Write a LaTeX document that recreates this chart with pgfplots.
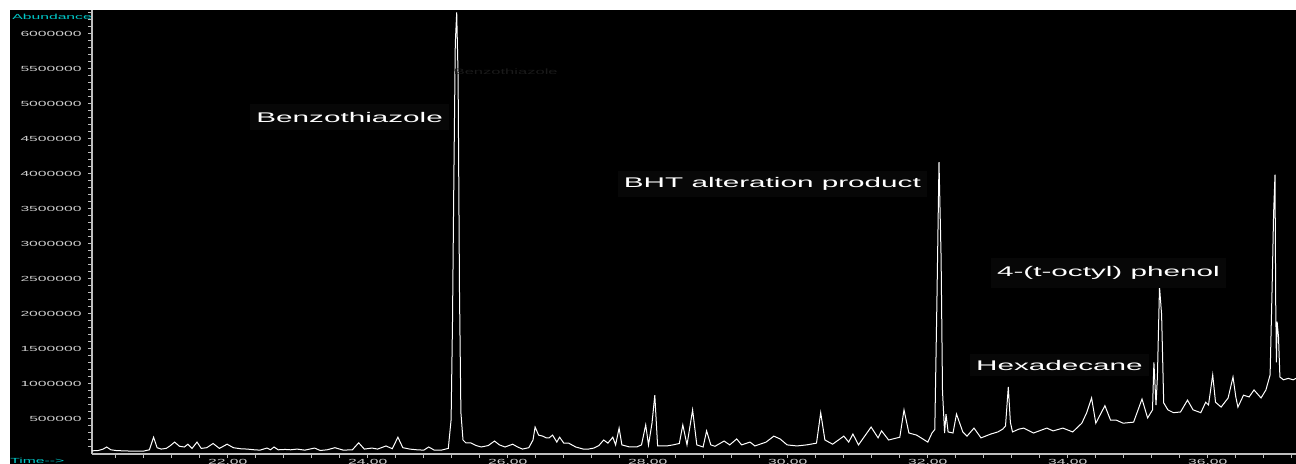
\documentclass[border=0pt]{standalone}
\usepackage{fontspec}
\setmainfont{Liberation Sans}
\usepackage{graphicx}
\usepackage{pgfplots}
\usepackage{pgfplotstable}
\pgfplotsset{compat=1.18}
\definecolor{cy}{RGB}{0,200,200}
\definecolor{tk}{RGB}{205,205,205}
\definecolor{ax}{RGB}{190,190,190}
\definecolor{boxc}{RGB}{7,7,7}
\definecolor{ghost}{RGB}{26,26,26}
\newcommand{\sx}[1]{\scalebox{2.12}[1]{#1}}

\pgfplotstableread{
t v
20.06 45000
20.15 50000
20.22 70000
20.27 100000
20.33 60000
20.40 50000
20.50 45000
20.60 42000
20.70 42000
20.80 42000
20.88 60000
20.94 240000
20.99 90000
21.05 70000
21.12 80000
21.18 120000
21.24 170000
21.31 110000
21.38 100000
21.43 140000
21.49 80000
21.56 170000
21.62 80000
21.70 90000
21.79 150000
21.88 80000
21.99 140000
22.08 90000
22.18 75000
22.28 70000
22.38 60000
22.46 55000
22.56 85000
22.61 60000
22.66 100000
22.72 60000
22.82 65000
22.90 60000
22.99 70000
23.10 55000
23.24 85000
23.32 50000
23.42 60000
23.53 90000
23.65 55000
23.78 60000
23.87 160000
23.95 70000
24.06 85000
24.14 70000
24.26 115000
24.35 75000
24.43 240000
24.50 90000
24.60 70000
24.70 60000
24.80 55000
24.87 100000
24.95 55000
25.05 55000
25.15 80000
25.19 490000
25.21 1890000
25.23 4000000
25.25 5870000
25.27 6310000
25.29 5390000
25.31 2300000
25.33 590000
25.36 200000
25.40 160000
25.47 160000
25.55 120000
25.62 100000
25.72 120000
25.81 185000
25.88 130000
25.96 100000
26.07 140000
26.14 100000
26.21 70000
26.30 90000
26.36 200000
26.39 385000
26.44 270000
26.50 255000
26.55 230000
26.59 230000
26.64 270000
26.70 170000
26.74 240000
26.80 155000
26.87 155000
26.97 100000
27.08 70000
27.15 70000
27.23 85000
27.30 120000
27.37 200000
27.43 155000
27.50 240000
27.54 130000
27.59 370000
27.63 130000
27.74 100000
27.84 100000
27.91 130000
27.97 415000
28.01 130000
28.06 440000
28.10 840000
28.14 115000
28.27 115000
28.36 130000
28.45 150000
28.50 415000
28.56 130000
28.64 630000
28.70 130000
28.79 100000
28.84 330000
28.90 130000
28.96 110000
29.09 185000
29.17 130000
29.27 215000
29.34 130000
29.46 170000
29.53 115000
29.69 170000
29.80 255000
29.89 215000
29.99 130000
30.13 115000
30.27 130000
30.41 155000
30.47 590000
30.53 200000
30.64 140000
30.80 255000
30.87 170000
30.93 285000
31.01 130000
31.19 385000
31.29 230000
31.34 330000
31.44 200000
31.60 240000
31.66 630000
31.73 300000
31.84 270000
32.00 170000
32.06 300000
32.10 350000
32.13 2170000
32.16 4170000
32.19 2800000
32.21 900000
32.24 300000
32.26 570000
32.29 315000
32.36 300000
32.41 570000
32.50 315000
32.56 255000
32.66 370000
32.76 230000
32.90 285000
33.00 315000
33.07 355000
33.11 400000
33.15 960000
33.18 450000
33.21 315000
33.30 355000
33.37 370000
33.51 300000
33.70 370000
33.79 330000
33.93 370000
34.07 315000
34.20 440000
34.27 590000
34.34 800000
34.40 440000
34.53 690000
34.61 485000
34.69 485000
34.79 440000
34.94 455000
35.06 785000
35.14 515000
35.21 630000
35.23 1310000
35.26 700000
35.28 1100000
35.31 2390000
35.34 1990000
35.37 730000
35.43 630000
35.51 590000
35.61 600000
35.71 770000
35.79 630000
35.90 590000
35.97 740000
36.01 700000
36.07 1130000
36.11 740000
36.19 670000
36.29 800000
36.36 1100000
36.40 815000
36.43 670000
36.51 840000
36.59 815000
36.66 915000
36.76 800000
36.83 915000
36.89 1130000
36.92 2440000
36.94 3440000
36.96 3990000
36.97 2170000
36.98 1310000
36.99 1890000
37.01 1670000
37.03 1100000
37.08 1060000
37.15 1080000
37.22 1060000
37.26 1080000
}\chrom

\begin{document}
\begin{tikzpicture}
\fill[white] (-46pt,-5pt) rectangle (602pt,227pt);
\fill[black] (-41pt,-5pt) rectangle (602pt,222pt);
\begin{axis}[
  at={(0,0)}, anchor=south west,
  scale only axis, width=602pt, height=222pt,
  xmin=20.06, xmax=37.26, ymin=0, ymax=6343000,
  axis x line*=bottom, axis y line*=left,
  axis line style={ax, line width=0.6pt},
  tick align=outside, major tick length=2pt, minor tick length=2pt,
  tick style={ax, line width=0.5pt},
  xtick={22,24,26,28,30,32,34,36},
  xticklabels={\sx{22.00},\sx{24.00},\sx{26.00},\sx{28.00},\sx{30.00},\sx{32.00},\sx{34.00},\sx{36.00}},
  minor xtick={20.4,20.8,...,37.2},
  ytick={500000,1000000,1500000,2000000,2500000,3000000,3500000,4000000,4500000,5000000,5500000,6000000},
  yticklabels={\sx{500000},\sx{1000000},\sx{1500000},\sx{2000000},\sx{2500000},\sx{3000000},\sx{3500000},\sx{4000000},\sx{4500000},\sx{5000000},\sx{5500000},\sx{6000000}},
  minor ytick={100000,200000,...,6300000},
  ticklabel style={font=\fontsize{3.7}{4}\selectfont, text=tk},
  yticklabel style={inner xsep=3pt},
  xticklabel style={inner ysep=0.6pt},
  /pgf/number format/assume math mode=true,
  clip=true,
]
\addplot[white, line width=0.5pt] table[x=t,y=v]{\chrom};
\node[text=ghost, font=\fontsize{3.9}{5}\selectfont] at (axis cs:25.97,5457000) {\sx{Benzothiazole}};
\node[fill=boxc, text=white, font=\fontsize{7}{8}\selectfont, inner xsep=3pt, inner ysep=4pt] at (axis cs:23.74,4810000) {\sx{Benzothiazole}};
\node[fill=boxc, text=white, font=\fontsize{7}{8}\selectfont, inner xsep=3pt, inner ysep=3pt] at (axis cs:29.78,3857000) {\sx{BHT alteration product}};
\node[fill=boxc, text=white, font=\fontsize{7}{8}\selectfont, inner xsep=3pt, inner ysep=4pt] at (axis cs:34.58,2586000) {\sx{4-(t-octyl) phenol}};
\node[fill=boxc, text=white, font=\fontsize{7}{8}\selectfont, inner xsep=3pt, inner ysep=3pt] at (axis cs:33.88,1270000) {\sx{Hexadecane}};
\end{axis}
\node[text=cy, anchor=north west, inner sep=0pt, font=\fontsize{3.7}{4}\selectfont] at (-40pt,220pt) {\sx{Abundance}};
\node[text=cy, anchor=north west, inner sep=0pt, font=\fontsize{3.7}{4}\selectfont] at (-41pt,-2pt) {\sx{Time-{}->}};
\pgfresetboundingbox
\useasboundingbox (-46pt,-5pt) rectangle (602pt,227pt);
\end{tikzpicture}
\end{document}
